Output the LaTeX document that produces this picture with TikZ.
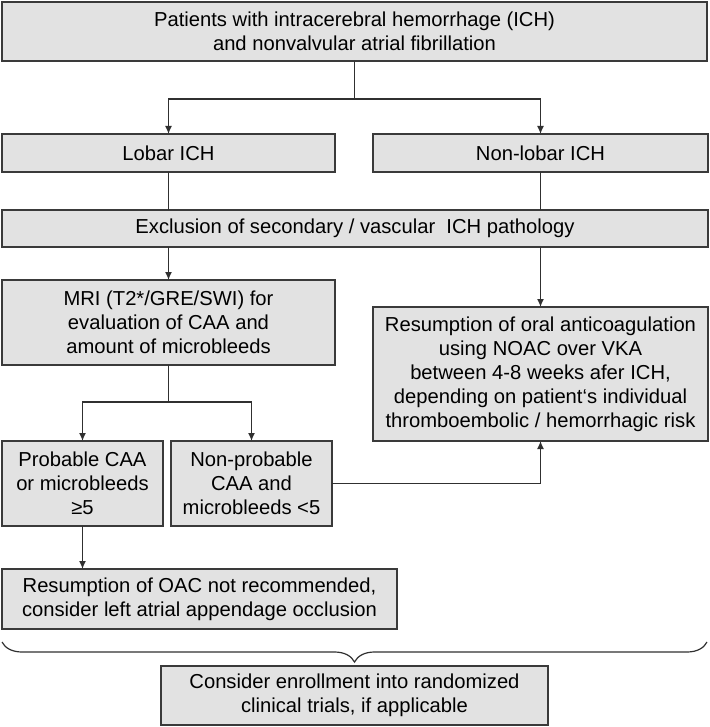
\documentclass[tikz,border=0pt]{standalone}
\usepackage{fontspec}
\setmainfont{Liberation Sans}
\usepackage{xcolor}
\usepackage{tikz}
\usetikzlibrary{arrows.meta}
\usetikzlibrary{decorations.pathreplacing}

\definecolor{boxfill}{HTML}{E2E2E2}
\definecolor{boxline}{HTML}{3A3A3A}
\definecolor{linecol}{HTML}{303030}

\begin{document}
\begin{tikzpicture}[x=1pt,y=-1pt,>={Latex[length=8pt,width=7pt]},font=\fontsize{20.2}{24}\selectfont]
	\tikzstyle{box}=[draw=boxline, line width=1.6pt, fill=boxfill, rectangle, align=center, inner sep=0pt, outer sep=0pt]
	\tikzstyle{link}=[draw=linecol, line width=1.4pt]
	\useasboundingbox (0,0) rectangle (709,727);

	\node[box, minimum width=705pt, minimum height=59pt] (top) at (354.5,31.5)
		{Patients with intracerebral hemorrhage (ICH)\\and nonvalvular atrial fibrillation};
	\node[box, minimum width=333pt, minimum height=38pt] (lobar) at (168.5,153) {Lobar ICH};
	\node[box, minimum width=335pt, minimum height=38pt] (nonlobar) at (540.5,153) {Non-lobar ICH};
	\node[box, minimum width=706pt, minimum height=37pt] (excl) at (355,228.5)
		{Exclusion of secondary / vascular~ ICH pathology};
	\node[box, minimum width=333pt, minimum height=85pt] (mri) at (168.5,322.5)
		{MRI (T2*/GRE/SWI) for\\evaluation of CAA and\\amount of microbleeds};
	\node[box, minimum width=335pt, minimum height=134pt] (resume) at (540.5,374)
		{Resumption of oral anticoagulation\\using NOAC over VKA\\between 4-8 weeks afer ICH,\\depending on patient‘s individual\\thromboembolic / hemorrhagic risk};
	\node[box, minimum width=161pt, minimum height=85pt] (prob) at (82.5,483.5)
		{Probable CAA\\or microbleeds\\≥5};
	\node[box, minimum width=161pt, minimum height=85pt] (nonprob) at (251.5,483.5)
		{Non-probable\\CAA and\\microbleeds <5};
	\node[box, minimum width=395pt, minimum height=60pt] (oac) at (199.5,599)
		{Resumption of OAC not recommended,\\consider left atrial appendage occlusion};
	\node[box, minimum width=387pt, minimum height=59pt] (trials) at (354.5,695.5)
		{Consider enrollment into randomized\\clinical trials, if applicable};

	\coordinate (split1) at (354.5,99);
	\coordinate (split2) at (168.5,402);
	\coordinate (braceL) at (2,642);
	\coordinate (braceR) at (707,642);

	\draw[link] (top.south) -- (split1);
	\draw[link,->] (split1) -| (lobar);
	\draw[link,->] (split1) -| (nonlobar);
	\draw[link] (lobar.south) -- (lobar.south |- excl.north);
	\draw[link] (nonlobar.south) -- (nonlobar.south |- excl.north);
	\draw[link,->] (mri.north |- excl.south) -- (mri.north);
	\draw[link,->] (resume.north |- excl.south) -- (resume.north);
	\draw[link] (mri.south) -- (split2);
	\draw[link,->] (split2) -| (prob);
	\draw[link,->] (split2) -| (nonprob);
	\draw[link,->] (nonprob.east) -| (resume.south);
	\draw[link,->] (prob.south) -- (prob.south |- oac.north);
	\draw[link,line width=1.2pt,decorate,decoration={brace,mirror,amplitude=20pt}] (braceL) -- (braceR);
\end{tikzpicture}
\end{document}
